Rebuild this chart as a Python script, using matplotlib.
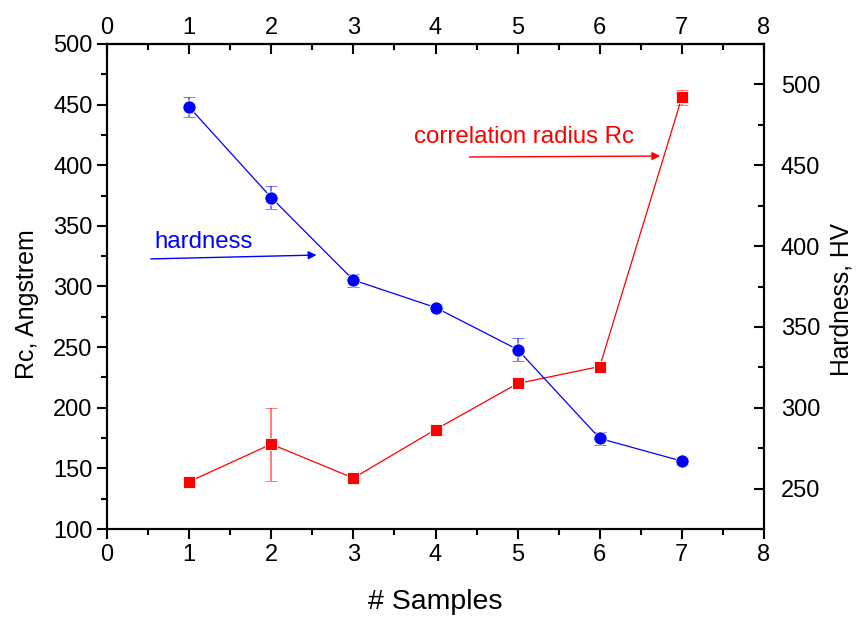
import numpy as np
import matplotlib.pyplot as plt
from matplotlib.ticker import MultipleLocator

plt.rcParams['font.family'] = ['Liberation Sans', 'DejaVu Sans']

samples = [1, 2, 3, 4, 5, 6, 7]
rc_values = [139, 170, 142, 182, 220, 234, 456]
rc_errors = [0, 30, 0, 0, 0, 0, 6]
hardness_values = [486, 430, 379, 362, 336, 281, 267]
hardness_errors = [6, 7, 4, 2, 7, 4, 2.5]

fig = plt.figure(figsize=(8.59, 6.18), dpi=100)
ax = fig.add_axes([107 / 859, 1 - 529 / 618, (764 - 107) / 859, (529 - 44) / 618])
ax2 = ax.twinx()

# red: correlation radius on left axis
ax.errorbar(samples, rc_values, yerr=rc_errors, color="red", lw=0.9, marker="s", ms=8.5,
            mec="white", mew=0.6, ecolor=(1, 0, 0, 0.6), elinewidth=1.2, capsize=4, capthick=1.2, zorder=3)
# blue: hardness on right axis
ax2.errorbar(samples, hardness_values, yerr=hardness_errors, color="blue", lw=0.9, marker="o", ms=9.5,
             mec="white", mew=0.6, ecolor=(0, 0, 1, 0.6), elinewidth=1.2, capsize=4, capthick=1.2, zorder=3)

ax.set_xlim(0, 8)
ax.set_ylim(100, 500)
ax2.set_ylim(225, 525)

ax.xaxis.set_major_locator(MultipleLocator(1))
ax.xaxis.set_minor_locator(MultipleLocator(0.5))
ax.yaxis.set_major_locator(MultipleLocator(50))
ax.yaxis.set_minor_locator(MultipleLocator(25))
ax2.yaxis.set_major_locator(MultipleLocator(50))
ax2.yaxis.set_minor_locator(MultipleLocator(25))

ax.tick_params(which="both", direction="out", width=1.5, labelsize=17, top=False)
ax.tick_params(which="major", length=7)
ax.tick_params(which="minor", length=4)
ax2.tick_params(which="both", direction="in", width=1.5, labelsize=17, pad=12)
ax2.tick_params(which="major", length=7)
ax2.tick_params(which="minor", length=4)

top = ax.secondary_xaxis("top")
top.xaxis.set_major_locator(MultipleLocator(1))
top.xaxis.set_minor_locator(MultipleLocator(0.5))
top.tick_params(which="both", direction="in", width=1.5, labelsize=17)
top.tick_params(which="major", length=7)
top.tick_params(which="minor", length=4)

for a in (ax, ax2, top):
    for s in a.spines.values():
        s.set_linewidth(1.5)

ax.set_xlabel("# Samples", fontsize=20.5, labelpad=17)
ax.set_ylabel("Rc, Angstrem", fontsize=18)
ax2.set_ylabel("Hardness, HV", fontsize=17.7)
# labels sit a bit below the middle in the original
ax.yaxis.set_label_coords(-0.103, 0.464)
ax2.yaxis.set_label_coords(1.099, 0.474)

ax.annotate("", xy=(2.585, 326), xytext=(0.5, 322.7),
            arrowprops=dict(arrowstyle="-|>", color="blue", lw=1, mutation_scale=12))
ax.text(0.58, 336.7, "hardness", color="blue", fontsize=17.3, va="center")
ax.annotate("", xy=(6.77, 407.6), xytext=(4.38, 406.8),
            arrowprops=dict(arrowstyle="-|>", color="red", lw=1, mutation_scale=12))
ax.text(3.74, 423.3, "correlation radius Rc", color="red", fontsize=17.3, va="center")

fig.savefig("out.png", dpi=100)
